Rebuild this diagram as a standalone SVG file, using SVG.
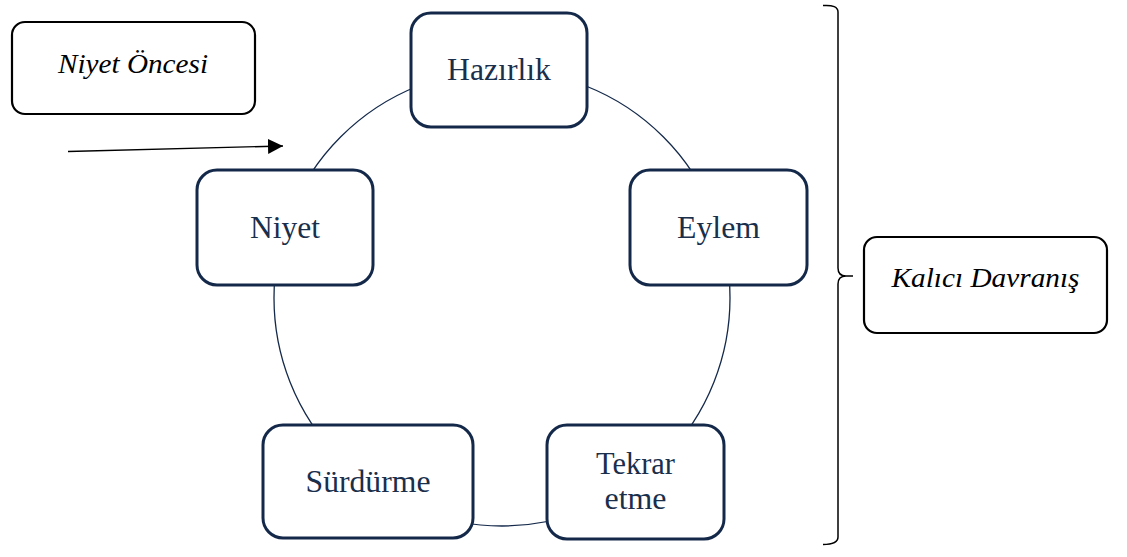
<svg xmlns="http://www.w3.org/2000/svg" width="1127" height="557" viewBox="0 0 1127 557">
<style>
text{font-family:"Liberation Serif","DejaVu Serif","Noto Serif",serif}
.stage rect{fill:#fff;stroke:#14294a;stroke-width:3}
.stage text{font-size:31px;fill:#1a2f4c;text-anchor:middle}
.outer rect{fill:#fff;stroke:#000;stroke-width:2.2}
.outer text{font-size:28px;font-style:italic;fill:#000;text-anchor:middle}
.cyc{fill:none;stroke:#14294a;stroke-width:1.3}
</style>
<defs>
<marker id="ah" markerWidth="16" markerHeight="16" refX="15" refY="7.5" orient="auto" markerUnits="userSpaceOnUse">
<path d="M0,0 L15,7.5 L0,15 Z" fill="#000"/>
</marker>
</defs>
<g id="connectors">
<circle class="cyc" cx="502" cy="298" r="228"/>
<line x1="68" y1="151.5" x2="283" y2="146" stroke="#000" stroke-width="1.3" marker-end="url(#ah)"/>
<path d="M823,5.5 Q838,4.5 838,12 L838,268 Q838,276 846,276 L853,276 M846,276 Q838,276 838,284 L838,537 Q838,544.5 823,544.5" fill="none" stroke="#000" stroke-width="1.5"/>
</g>
<g id="niyet-oncesi" class="outer">
<rect x="12" y="22" width="243" height="92" rx="13"/>
<text x="133" y="73" textLength="150" lengthAdjust="spacingAndGlyphs">Niyet Öncesi</text>
</g>
<g id="hazirlik" class="stage">
<rect x="411" y="13" width="176" height="114" rx="20"/>
<text x="499" y="80" textLength="104" lengthAdjust="spacingAndGlyphs">Hazırlık</text>
</g>
<g id="eylem" class="stage">
<rect x="630" y="170" width="177" height="115" rx="20"/>
<text x="718.5" y="238" textLength="83" lengthAdjust="spacingAndGlyphs">Eylem</text>
</g>
<g id="tekrar-etme" class="stage">
<rect x="547" y="425" width="177" height="114" rx="20"/>
<text x="635.5" y="474" textLength="79" lengthAdjust="spacingAndGlyphs">Tekrar</text>
<text x="635.5" y="509" textLength="62" lengthAdjust="spacingAndGlyphs">etme</text>
</g>
<g id="surdurme" class="stage">
<rect x="263" y="425" width="210" height="113" rx="20"/>
<text x="368" y="492" textLength="125" lengthAdjust="spacingAndGlyphs">Sürdürme</text>
</g>
<g id="niyet" class="stage">
<rect x="197" y="170" width="176" height="115" rx="20"/>
<text x="285" y="238" textLength="70" lengthAdjust="spacingAndGlyphs">Niyet</text>
</g>
<g id="kalici-davranis" class="outer">
<rect x="864" y="237" width="243" height="96" rx="13"/>
<text x="985.5" y="287" textLength="188" lengthAdjust="spacingAndGlyphs">Kalıcı Davranış</text>
</g>
</svg>
